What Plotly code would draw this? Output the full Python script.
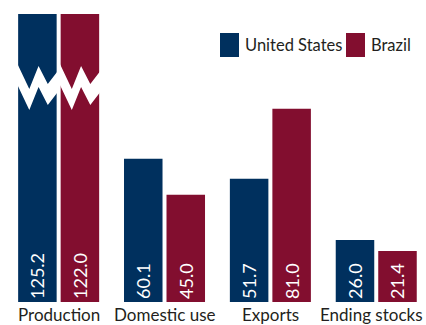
import plotly.graph_objects as go

categories = ["Production", "Domestic use", "Exports", "Ending stocks"]
us_values = [125.2, 60.1, 51.7, 26.0]
brazil_values = [122.0, 45.0, 81.0, 21.4]
series_names = ["United States", "Brazil"]
colors = ["#00305e", "#820e2f"]

W, H = 426, 325
ml, mr, mt, mb = 0, 0, 14, 23
x_range = [-0.554, 3.47]
y_max = 120.75
bargap, bargroupgap = 0.197, 0.094
font_family = "Lato, Roboto, sans-serif"
text_color = "#231f20"

xs = list(range(len(categories)))
fig = go.Figure()
for name, vals, col in zip(series_names, [us_values, brazil_values], colors):
    fig.add_trace(go.Bar(
        x=xs, y=vals, name=name, marker=dict(color=col, line=dict(width=0)),
        text=[f"{v:.1f}" for v in vals], textposition="inside",
        insidetextanchor="start", textangle=-90,
        textfont=dict(color="white", size=18, family=font_family),
        cliponaxis=True, showlegend=False,
    ))

# broken-axis zigzag on bars exceeding the range
plot_h = H - mt - mb
px_per_unit = plot_h / y_max
slot = (1 - bargap) / 2
bar_w = slot * (1 - bargroupgap)
fracs = [-0.03, 0.29, 0.53, 0.77, 1.03]
top_px = [63, 89, 66, 84, 71]  # pixel y (from top of figure) of band's upper edge
thick = 21
def py_to_data(py):
    return (H - mb - py) / px_per_unit
shapes = []
for si, vals in enumerate([us_values, brazil_values]):
    for ci, v in enumerate(vals):
        if v <= y_max:
            continue
        center = xs[ci] - (1 - bargap) / 2 + slot * (si + 0.5)
        left = center - bar_w / 2
        pts_top = [(left + f * bar_w, py_to_data(p)) for f, p in zip(fracs, top_px)]
        pts_bot = [(left + f * bar_w, py_to_data(p + thick)) for f, p in zip(fracs, top_px)]
        pts = pts_top + pts_bot[::-1]
        path = "M " + " L ".join(f"{a},{b}" for a, b in pts) + " Z"
        shapes.append(dict(type="path", path=path, xref="x", yref="y",
                           fillcolor="white", line=dict(width=0), layer="above"))

annotations = []
# category labels
for i, (xi, cat) in enumerate(zip(xs, categories)):
    last = i == len(categories) - 1
    annotations.append(dict(text=cat,
                            x=1 if last else xi, xref="paper" if last else "x",
                            xanchor="right" if last else "center", xshift=-1 if last else 0,
                            y=0, yref="paper", yanchor="top", showarrow=False,
                            font=dict(size=17, color=text_color, family=font_family)))

# manual legend
leg_items = [(series_names[0], colors[0], 220, 245), (series_names[1], colors[1], 346, 371)]
for name, col, sx, tx in leg_items:
    shapes.append(dict(type="rect", xref="paper", yref="paper",
                       x0=(sx - ml) / (W - ml - mr), x1=(sx + 19 - ml) / (W - ml - mr),
                       y0=(H - mb - 57) / plot_h, y1=(H - mb - 33) / plot_h,
                       fillcolor=col, line=dict(width=0)))
    annotations.append(dict(text=name, xref="paper", yref="paper",
                            x=(tx - ml) / (W - ml - mr), y=(H - mb - 45) / plot_h,
                            xanchor="left", yanchor="middle", showarrow=False,
                            xshift=-2,
                            font=dict(size=16.5, color=text_color, family=font_family)))

fig.update_layout(
    width=W, height=H, margin=dict(l=ml, r=mr, t=mt, b=mb, autoexpand=False),
    barmode="group", bargap=bargap, bargroupgap=bargroupgap,
    plot_bgcolor="white", paper_bgcolor="white",
    shapes=shapes, annotations=annotations,
    xaxis=dict(range=x_range, showticklabels=False, showgrid=False,
               zeroline=False, showline=False, ticks="", automargin=False),
    yaxis=dict(range=[0, y_max], visible=False, showgrid=False, zeroline=False),
)
fig.write_html("out.html")
